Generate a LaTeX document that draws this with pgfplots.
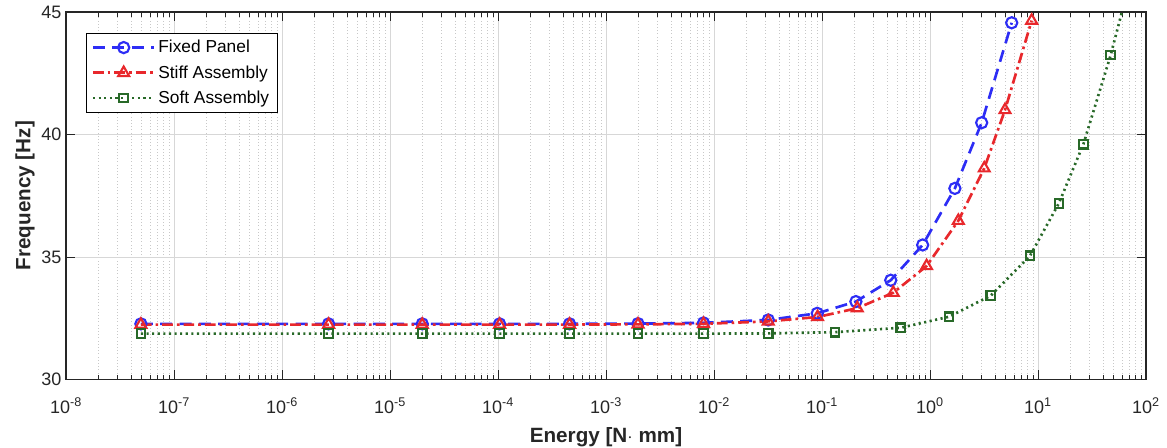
\documentclass[border=0pt]{standalone}
\usepackage{fontspec}
\setmainfont{Liberation Sans}
\usepackage{pgfplots}
\pgfplotsset{compat=1.18}
\definecolor{cblue}{RGB}{45,45,245}
\definecolor{cred}{RGB}{232,40,44}
\definecolor{cgreen}{RGB}{40,105,40}
\definecolor{axc}{RGB}{38,38,38}
\definecolor{gmaj}{RGB}{215,215,215}
\definecolor{gmin}{RGB}{200,200,200}
\begin{document}
\begin{tikzpicture}
\useasboundingbox (-49.5pt,-51.4pt) rectangle (825.75pt,284.6pt);
\begin{axis}[
  at={(0,0)}, anchor=south west,
  scale only axis, width=810pt, height=275.6pt,
  xmode=log, xmin=1e-8, xmax=1e2, ymin=30, ymax=45,
  xtick={1e-8,1e-7,1e-6,1e-5,1e-4,1e-3,1e-2,1e-1,1e0,1e1,1e2},
  xticklabels={10\textsuperscript{-8},10\textsuperscript{-7},10\textsuperscript{-6},10\textsuperscript{-5},10\textsuperscript{-4},10\textsuperscript{-3},10\textsuperscript{-2},10\textsuperscript{-1},10\textsuperscript{0},10\textsuperscript{1},10\textsuperscript{2}},
  ytick={30,35,40,45}, yticklabels={30,35,40,45},
  minor y tick num=0,
  tick align=inside, xtick pos=both, ytick pos=both,
  major tick length=7pt, minor tick length=3.5pt,
  every tick/.style={axc, line width=0.6pt},
  axis line style={axc, line width=0.8pt},
  grid=both,
  major grid style={draw=gmaj, line width=0.6pt},
  minor grid style={draw=gmin, dotted, line width=0.5pt},
  ticklabel style={font=\fontsize{13.5}{16}\selectfont, text=axc},
  xticklabel style={yshift=-10pt},
  xlabel={\textbf{Energy [N$\cdot$ mm]}},
  ylabel={\textbf{Frequency [Hz]}},
  label style={font=\fontsize{15.5}{18}\selectfont, text=axc},
  xlabel style={yshift=-3.5pt},
  ylabel style={yshift=-2pt},
  legend cell align=left,
  legend style={at={(0.0185,0.944)}, anchor=north west, draw=black, line width=0.6pt,
    fill=white, font=\fontsize{13}{15}\selectfont, inner xsep=4pt, inner ysep=3.5pt,
    row sep=4pt},
  legend image code/.code={%
    \draw[#1,mark=none] (0pt,0pt) -- (46pt,0pt);
    \draw[#1] plot coordinates {(23pt,0pt)};},
]
\addplot[cblue, line width=2pt, dash pattern=on 9pt off 5.5pt,
  mark=o, mark size=4.2pt, mark options={solid, line width=1.6pt}]
coordinates {
(4.94e-8,32.27) (2.70e-6,32.27) (1.99e-5,32.27) (1.035e-4,32.27) (4.6e-4,32.27)
(1.98e-3,32.28) (8.0e-3,32.31) (0.0318,32.43) (0.0904,32.70) (0.206,33.18)
(0.433,34.05) (0.855,35.49) (1.70,37.80) (3.01,40.48) (5.71,44.56)};
\addlegendentry{Fixed Panel}
\addplot[cred, line width=2pt, dash pattern=on 8pt off 3pt on 2pt off 3pt,
  mark=triangle, mark size=4.7pt, mark options={solid, line width=1.6pt}]
coordinates {
(4.94e-8,32.24) (2.70e-6,32.24) (1.99e-5,32.24) (1.035e-4,32.24) (4.6e-4,32.24)
(1.98e-3,32.25) (8.0e-3,32.27) (0.0318,32.37) (0.091,32.55) (0.212,32.91)
(0.457,33.54) (0.93,34.63) (1.83,36.48) (3.18,38.62) (4.95,41.0) (8.74,44.65)};
\addlegendentry{Stiff Assembly}
\addplot[cgreen, line width=2pt, dash pattern=on 1.6pt off 2.6pt,
  mark=square, mark size=3.2pt, mark options={solid, line width=1.6pt}]
coordinates {
(4.94e-8,31.87) (2.70e-6,31.87) (1.99e-5,31.87) (1.035e-4,31.87) (4.6e-4,31.87)
(1.98e-3,31.87) (8.0e-3,31.87) (0.0318,31.88) (0.132,31.93) (0.536,32.11)
(1.50,32.56) (3.65,33.42) (8.44,35.05) (15.6,37.19) (26.3,39.60) (47.1,43.24)
(83,47.4)};
\addlegendentry{Soft Assembly}
\end{axis}
\end{tikzpicture}
\end{document}
